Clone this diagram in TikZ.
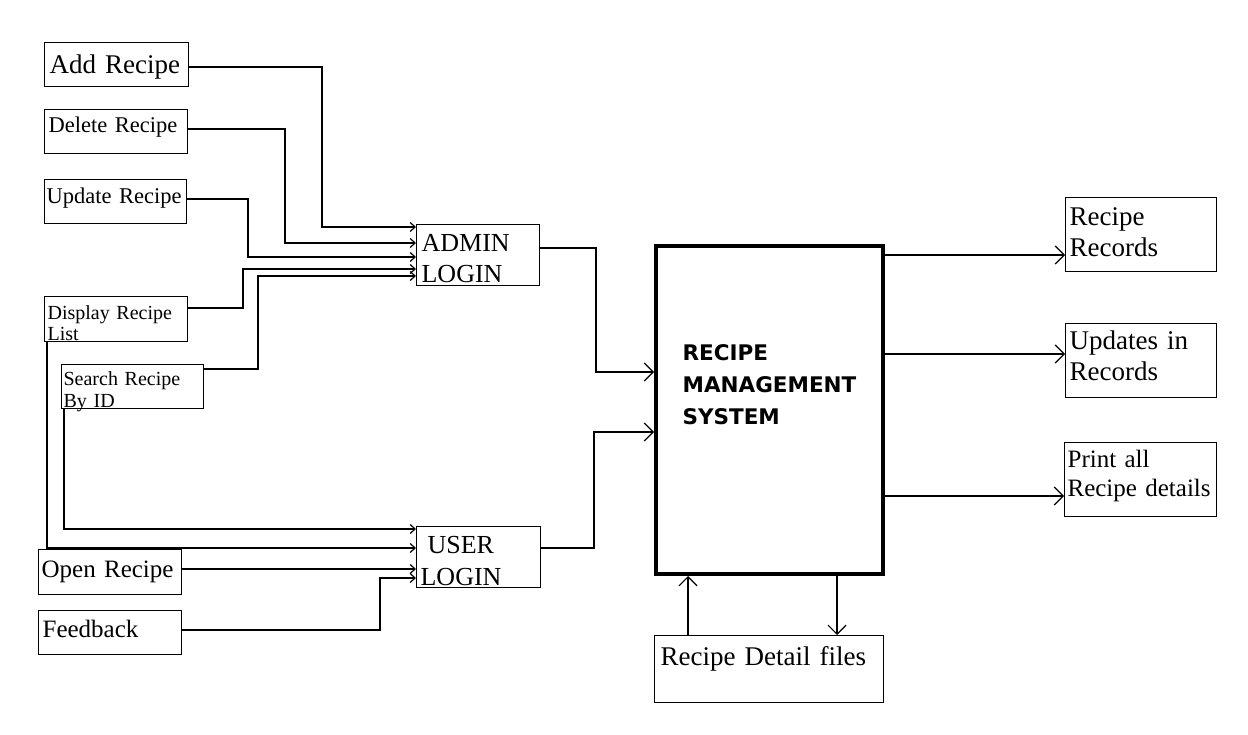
\documentclass[tikz,border=0pt]{standalone}
\usepackage{fontspec}
\setmainfont{Liberation Serif}
\newfontfamily\titlefont{DejaVu Sans}
\usetikzlibrary{arrows.meta}

\begin{document}
\begin{tikzpicture}[x=1pt,y=-1pt,line width=1.2pt,
    >={Straight Barb[length=9pt,width=18pt]}]
  \tikzstyle{box}=[draw,anchor=north west,align=left,inner ysep=0pt]
  \tikzstyle{small}=[-{Straight Barb[length=5pt,width=9pt]}]
  \useasboundingbox (0,0) rectangle (1248,735);
  % admin side
  \node[box,inner xsep=5pt,text width=134pt,text height=31pt,text depth=13pt,
    font=\fontsize{27}{31}\selectfont] (add) at (44,42) {Add Recipe};
  \node[box,inner xsep=4pt,text width=135pt,text height=23pt,text depth=21pt,
    font=\fontsize{22.5}{27}\selectfont] (del) at (44,109) {Delete Recipe};
  \node[box,inner xsep=2pt,text width=138pt,text height=24pt,text depth=20pt,
    font=\fontsize{22.5}{27}\selectfont] (upd) at (44,179) {Update Recipe};
  \node[box,inner xsep=3pt,text width=137pt,text height=23pt,text depth=22pt,
    font=\fontsize{20}{21}\selectfont] (disp) at (44,296) {Display Recipe\\List};
  \node[box,inner xsep=2pt,text width=138pt,text height=21pt,text depth=23pt,
    font=\fontsize{20}{22}\selectfont] (srch) at (61,364) {Search Recipe\\By ID};
  \node[box,inner xsep=5pt,text width=113pt,text height=27pt,text depth=34pt,
    font=\fontsize{26}{31}\selectfont] (admin) at (416,224) {ADMIN\\LOGIN};
  % user side
  \node[box,inner xsep=4pt,text width=116pt,text height=27pt,text depth=34pt,
    font=\fontsize{26}{32}\selectfont] (user) at (416,526) {\hspace*{7pt}USER\\LOGIN};
  \node[box,inner xsep=3pt,text width=137pt,text height=28pt,text depth=17pt,
    font=\fontsize{25}{29}\selectfont] (open) at (38,549) {Open Recipe};
  \node[box,inner xsep=4pt,text width=135pt,text height=27pt,text depth=17pt,
    font=\fontsize{25}{29}\selectfont] (feed) at (38,610) {Feedback};
  % system
  \node[draw,line width=4pt,anchor=north west,inner sep=0pt,
    minimum width=227pt,minimum height=328pt] (rms) at (654,244) {};
  \node[anchor=west,align=left,inner sep=0pt,
    font=\titlefont\bfseries\fontsize{21.5}{32}\selectfont] (title) at (682,385)
    {RECIPE\\MANAGEMENT\\SYSTEM};
  % outputs
  \node[box,inner xsep=4pt,text width=143pt,text height=28pt,text depth=46pt,
    font=\fontsize{27}{31}\selectfont] (recs) at (1065,197) {Recipe\\Records};
  \node[box,inner xsep=4pt,text width=143pt,text height=26pt,text depth=48pt,
    font=\fontsize{27}{31}\selectfont] (upds) at (1065,323) {Updates in\\Records};
  \node[box,inner xsep=3pt,text width=146pt,text height=25pt,text depth=49pt,
    font=\fontsize{25}{29}\selectfont] (prt) at (1064,442) {Print all\\Recipe details};
  \node[box,inner xsep=6pt,text width=217pt,text height=30pt,text depth=37pt,
    font=\fontsize{27}{31}\selectfont] (files) at (654,635) {Recipe Detail files};
  % into admin login
  \draw[small] (add.east |- 0,67) -| (322,227) -- (admin.west |- 0,227);
  \draw[small] (del.east |- 0,129) -| (285,243) -- (admin.west |- 0,243);
  \draw[small] (upd.east |- 0,199) -| (248,257) -- (admin.west |- 0,257);
  \draw[small] (disp.east |- 0,308) -| (243,269) -- (admin.west |- 0,269);
  \draw[small] (srch.east |- 0,369) -| (258,276) -- (admin.west |- 0,276);
  % into user login
  \draw[small] (srch.south -| 64,0) |- (user.west |- 0,529);
  \draw[small] (disp.south -| 47,0) |- (user.west |- 0,548);
  \draw[small] (open.east |- 0,569) -- (user.west |- 0,569);
  \draw[small] (feed.east |- 0,630) -| (380,578) -- (user.west |- 0,578);
  % into the system
  \draw[->] (admin.east |- 0,248) -| (596,372) -- (rms.west |- 0,372);
  \draw[->] (user.east |- 0,548) -| (594,432) -- (rms.west |- 0,432);
  % out of the system
  \draw[->] (rms.east |- 0,255) -- (recs.west |- 0,255);
  \draw[->] (rms.east |- 0,354) -- (upds.west |- 0,354);
  \draw[->] (rms.east |- 0,496) -- (prt.west |- 0,496);
  \draw[->] (files.north -| 688,0) -- (rms.south -| 688,0);
  \draw[->] (rms.south -| 837,0) -- (files.north -| 837,0);
\end{tikzpicture}
\end{document}
